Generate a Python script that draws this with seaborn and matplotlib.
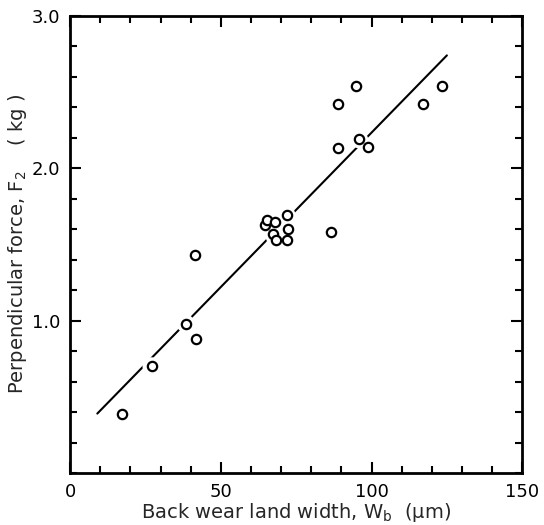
import numpy as np
import pandas as pd
import matplotlib
matplotlib.use("Agg")
import matplotlib.pyplot as plt
import seaborn as sns
from matplotlib.ticker import MultipleLocator

# back wear land width (um) and perpendicular force (kg)
wear_width = [17.2, 27.0, 38.3, 41.6, 41.4,
              64.6, 65.4, 67.8, 71.8, 67.4, 72.2, 68.2, 71.8, 86.6,
              88.9, 88.9, 94.7, 95.8, 98.8, 117.1, 123.4]
force = [0.39, 0.70, 0.98, 0.88, 1.43,
         1.63, 1.66, 1.65, 1.69, 1.57, 1.60, 1.53, 1.53, 1.58,
         2.13, 2.42, 2.54, 2.19, 2.14, 2.42, 2.54]

# fitted line end points
fit_x = [9, 125]
fit_y = [0.39, 2.74]

df = pd.DataFrame({"Wb": wear_width, "F2": force})
fit = pd.DataFrame({"Wb": fit_x, "F2": fit_y})

sns.set_style("ticks")
plt.rcParams["font.family"] = ["DejaVu Sans"]

fig = plt.figure(figsize=(5.44, 5.25), dpi=100)
ax = fig.add_axes([0.129, 0.099, 0.831, 0.871])

sns.lineplot(data=fit, x="Wb", y="F2", color="black", linewidth=1.5, ax=ax)
# white halos break the line around the circles
sns.scatterplot(data=df, x="Wb", y="F2", s=170, color="white", edgecolor="none",
                linewidth=0, ax=ax, zorder=3)
sns.scatterplot(data=df, x="Wb", y="F2", s=45, facecolor="white", edgecolor="black",
                linewidth=1.6, ax=ax, zorder=4)

ax.set_xlim(0, 150)
ax.set_ylim(0, 3.0)
ax.set_xticks([0, 50, 100, 150])
ax.set_yticks([1.0, 2.0, 3.0])
ax.set_yticklabels(["1.0", "2.0", "3.0"])
ax.xaxis.set_minor_locator(MultipleLocator(10))
ax.yaxis.set_minor_locator(MultipleLocator(0.2))
ax.tick_params(which="both", direction="in", top=True, right=True, width=1.5,
               labelsize=13, colors="black")
ax.tick_params(which="major", length=8, pad=7)
ax.tick_params(which="minor", length=5)
for s in ax.spines.values():
    s.set_linewidth(2)
    s.set_color("black")

ax.set_xlabel("Back wear land width, W$_\\mathregular{b}$  (\u03bcm)", fontsize=14, labelpad=0)
ax.set_ylabel("Perpendicular force, F$_\\mathregular{2}$    ( kg )", fontsize=14, labelpad=2)

fig.savefig("out.png", dpi=100)
